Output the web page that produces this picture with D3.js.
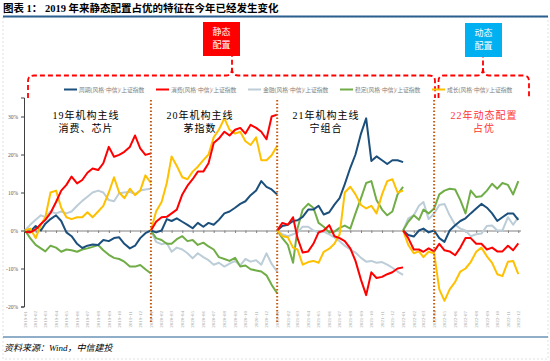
<!DOCTYPE html>
<html>
<head>
<meta charset="utf-8">
<script src="https://cdn.jsdelivr.net/npm/d3@7"></script>
<style>
  body { margin: 0; background: #fff; }
  svg { display: block; }
  text { font-family: "Liberation Serif", "Noto Sans CJK SC", serif; }
</style>
</head>
<body>
<div id="app"></div>
<script>
// 各年度相对上证指数的超额收益(%)，每段年初归零，半月一个点
var years = [2019, 2020, 2021, 2022];
var seriesNames = ['周期(风格·中信)/上证指数', '消费(风格·中信)/上证指数', '金融(风格·中信)/上证指数', '稳定(风格·中信)/上证指数', '成长(风格·中信)/上证指数'];
var seriesColors = ['#1b4f7c', '#ff0000', '#bccdd8', '#70ad47', '#ffc000'];

var zhouqi = [
  [0, -0.3, 1.2, 0, 1.8, 3, 4, 2.5, -0.5, -1.5, -3.5, -4.6, -4, -3.7, -3.8, -2.5, -2.8, -2, -1.8, -3.5, -4.7, -4, -2, -0.7, 0],
  [0, -0.5, 0, 3, 2.5, 3.2, 2.3, 1.5, 0.6, 2, 1, 2, 1.5, 2.8, 4.5, 5, 6, 7, 7.7, 9.3, 10.5, 13, 11.5, 10.8, 9.5],
  [0, 1.2, 1.5, 2.5, 2.7, 3.6, 5.5, 5.5, 6.5, 4.2, 4.8, 6.8, 8.5, 12.2, 16.5, 20, 25.5, 29.5, 18.3, 19.5, 18.5, 17.5, 18.5, 18.5, 18],
  [0, -1.2, -1.6, 0, 0.5, -0.5, 0, -2, -3, 0, 1.4, 2.5, 3.2, 4.5, 5.8, 7, 6, 4.5, 2.5, 3.5, 4.5, 4.5, 2.8]
];
var xiaofei = [
  [-0.3, -0.5, 0.3, 1.7, 2.8, 4.6, 7.5, 10.5, 12, 14.2, 12.4, 13.3, 15.2, 16.3, 15.9, 17.7, 22, 19.4, 19.9, 20.7, 22, 25, 21.6, 19.9, 20.3],
  [0, 2.3, 3.5, 3.6, 4.5, 5.5, 9.5, 11.8, 13.5, 15.5, 15.5, 17.7, 23, 24.2, 26, 25, 26.5, 27, 25.5, 27.8, 27, 26, 24, 30, 30.5],
  [0, 2, 1.5, 3.5, -2, -5.8, -5.5, -3.5, -0.5, 0, 1.4, -1.5, -2, -2.8, -4.7, -8, -13, -17, -11, -12.5, -12.2, -11.5, -11, -10, -9.7],
  [0, -2, -5, -5, -5.6, -4.7, -5.5, -3.5, -5.2, -5.5, -6.5, -4.5, -2, -2, -3.5, -3.5, -5, -4.5, -5.5, -5.5, -4, -5.2, -3.4]
];
var jinrong = [
  [0, 1.5, 2.8, 4, 3.5, 5, 4.5, 5, 4.5, 5, 6.5, 7.8, 8.9, 10, 10.5, 10, 8, 7.7, 9.8, 10, 10.2, 9.6, 10.5, 10.8, 11],
  [0, -3, -3.6, -3.3, -5.6, -4.5, -5, -6, -7.3, -6, -7, -7.8, -9, -8.5, -9.5, -8.7, -8, -9.2, -7.5, -8.2, -7.8, -9, -6, -8.8, -10.8],
  [0, -1, -1.5, -1, -0.5, 1, 1, 0, -0.5, -0.3, -1, -1.8, -2.8, -4, -5, -5.8, -7.2, -8.2, -8, -8.5, -8.3, -9, -9.8, -10.8, -11.7],
  [0, 3.2, 4, 6.5, 7.5, 3, 4.5, 6.7, 7, 4, 1.5, 0.5, 0, -1.5, -1, -0.8, 1.2, 1.3, 0, 0, 3.5, 1.5, 3.5]
];
var wending = [
  [0, -2, -3.8, -4.7, -5.5, -4, -4.5, -5.6, -5, -5.2, -5.6, -5, -4.7, -4.3, -3.8, -5.2, -6.4, -7.2, -7.5, -8.2, -9.5, -9.5, -9.1, -10.2, -11.3],
  [0, -2, -2.5, -3.5, -3.5, -2.3, -1.5, -2.8, -2.5, -3.8, -3.2, -4.2, -5, -7, -7.5, -8, -7.2, -9.5, -9.2, -10.2, -10.5, -10.8, -11.8, -14.3, -16.5],
  [0, -2, -3.8, -8.5, 0.5, 5.5, 7, 6, 2, 1, -0.5, -0.3, 0.7, 1.3, 0.5, 4.5, 8.5, 12.5, 13, 8, 5.5, 4, 5, 9.5, 11.5],
  [0, 2.3, 4, 2.8, 5.5, 4.5, 5.8, 9.5, 10.5, 11, 10.8, 8, 4.5, 10.5, 8.8, 9, 10.5, 12.3, 11, 12.5, 12, 9.5, 13]
];
var chengzhang = [
  [0, 0.5, -2, 1.5, 3.5, 10, 10.5, 6, 3.5, 3, 3.5, 3.5, 4.8, 3.5, 5, 6.5, 10, 14, 10, 8.5, 11, 9.3, 10.5, 14.5, 12.5],
  [0, 5, 7.5, 12.5, 19.5, 17, 14, 13.5, 15.5, 16.8, 18.5, 20, 24.5, 26.5, 29.5, 26.5, 25.5, 26, 23.5, 22.5, 24.5, 18.5, 18.5, 19.8, 22.3],
  [0, -1.5, -1.8, -4.5, -5, -9, -8.3, -8, -8.5, -5.6, -4.8, -3.5, -1, 10, 11.5, 9.5, 6.7, 5.8, 6.5, 4.5, 9.5, 13, 13.5, 10, 10.5],
  [0, -3.8, -6, -5.5, -7, -5.6, -6, -15.5, -18.5, -15.5, -13.5, -10.8, -10, -8.3, -5.6, -4.5, -6.8, -8.5, -11.5, -12, -8.2, -8, -11.5]
];
var allSeries = [zhouqi, xiaofei, jinrong, wending, chengzhang];

var yTicks = [30, 20, 10, 0, -10, -20];
var splitDates = [new Date(2020, 0, 1), new Date(2021, 0, 1), new Date(2022, 3, 1)];
var notes = [
  {x: 86, lines: ['19年机构主线', '消费、芯片'], color: '#000'},
  {x: 200, lines: ['20年机构主线', '茅指数'], color: '#000'},
  {x: 326, lines: ['21年机构主线', '宁组合'], color: '#000'},
  {x: 484, lines: ['22年动态配置', '占优'], color: '#ff3333'}
];

var W = 550, H = 361;
var svg = d3.select('#app').append('svg').attr('width', W).attr('height', H);

var x = d3.scaleTime().domain([new Date(2019, 0, 1), new Date(2023, 0, 1)]).range([25, 529]);
var y = d3.scaleLinear().domain([-20, 35]).range([306.5, 97.5]);

// frame, title
svg.append('rect').attr('x', 3).attr('y', 17).attr('width', 545).attr('height', 342)
   .attr('fill', 'none').attr('stroke', '#d9d9d9').attr('stroke-width', 0.8).attr('stroke-dasharray', '2,2');
svg.append('text').attr('x', 3).attr('y', 11.5).attr('font-size', 10.5).attr('font-weight', 'bold')
   .attr('fill', '#000').text('图表 1：  2019 年来静态配置占优的特征在今年已经发生变化');
svg.append('line').attr('x1', 3).attr('x2', 548).attr('y1', 16.5).attr('y2', 16.5)
   .attr('stroke', '#2a5f8f').attr('stroke-width', 1.8);
svg.append('line').attr('x1', 3).attr('x2', 548).attr('y1', 337).attr('y2', 337)
   .attr('stroke', '#6b93b5').attr('stroke-width', 1.5);
svg.append('text').attr('x', 4).attr('y', 351).attr('font-size', 9).attr('font-style', 'italic')
   .attr('fill', '#000').text('资料来源：Wind，中信建投');

// boxes + braces
var boxes = [
  {x: 203, y: 22, fill: '#ff0000', t: ['静态', '配置']},
  {x: 465, y: 23, fill: '#00b0f0', t: ['动态', '配置']}
];
boxes.forEach(function(b) {
  svg.append('rect').attr('x', b.x).attr('y', b.y).attr('width', 37).attr('height', 34).attr('fill', b.fill);
  b.t.forEach(function(s, i) {
    svg.append('text').attr('x', b.x + 18.5).attr('y', b.y + 13 + i * 13).attr('text-anchor', 'middle')
       .attr('font-size', 9).attr('fill', '#fff').text(s);
  });
});
var braces = [
  'M28,98 L28,81 Q28,75.5 34,75.5 L226,75.5 Q232,75.5 232,68 L232,56 M232,68 Q232,75.5 238,75.5 L429,75.5 Q435,75.5 435,81 L435,98',
  'M438.5,98 L438.5,81 Q438.5,75.5 444,75.5 L477,75.5 Q483,75.5 483,68 L483,57 M483,68 Q483,75.5 489,75.5 L523,75.5 Q529,75.5 529,81 L529,98'
];
braces.forEach(function(p) {
  svg.append('path').attr('d', p).attr('fill', 'none').attr('stroke', '#ff0000')
     .attr('stroke-width', 1.8).attr('stroke-dasharray', '5,3');
});

// legend
var legX = [64, 156, 248, 340, 432];
seriesNames.forEach(function(n, i) {
  svg.append('line').attr('x1', legX[i]).attr('x2', legX[i] + 13).attr('y1', 89.5).attr('y2', 89.5)
     .attr('stroke', seriesColors[i]).attr('stroke-width', 2);
  svg.append('text').attr('x', legX[i] + 15).attr('y', 91.5).attr('font-size', 5.8)
     .attr('fill', '#808080').text(n);
});

// y axis
var yAxis = svg.append('g').attr('transform', 'translate(24,0)')
  .call(d3.axisLeft(y).tickValues(yTicks).tickSize(3).tickFormat(function(d) { return d + '%'; }));
yAxis.select('.domain').attr('stroke', '#404040');
yAxis.selectAll('line').attr('stroke', '#404040');
yAxis.selectAll('text').attr('font-size', 5.5).attr('fill', '#595959');

// zero axis with monthly ticks
var months = d3.timeMonth.range(new Date(2019, 0, 1), new Date(2023, 0, 1));
var zeroAxis = svg.append('g').attr('transform', 'translate(0,' + y(0) + ')')
  .call(d3.axisBottom(x).tickValues(months).tickSize(2.5).tickSizeOuter(0).tickFormat(''));
zeroAxis.select('.domain').attr('stroke', '#808080').attr('d', 'M24,0.5H521');
zeroAxis.selectAll('line').attr('stroke', '#808080');

// month labels
svg.append('g').selectAll('text').data(months).join('text')
  .attr('transform', function(d) { return 'translate(' + (x(d) + 1.8) + ',311) rotate(-90)'; })
  .attr('text-anchor', 'end').attr('font-size', 5).attr('fill', '#a6a6a6')
  .text(d3.timeFormat('%Y-%m'));

// series
function pointDate(year, k) {
  return new Date(year, Math.floor(k / 2), k % 2 ? 16 : 1);
}
var line = d3.line().x(function(d) { return x(d.date); }).y(function(d) { return y(d.v); });
var drawOrder = [2, 3, 0, 4, 1];
years.forEach(function(yr, s) {
  drawOrder.forEach(function(i) {
    var pts = allSeries[i][s].map(function(v, k) { return {date: pointDate(yr, k), v: v}; });
    svg.append('path').datum(pts).attr('d', line).attr('fill', 'none')
       .attr('stroke', seriesColors[i]).attr('stroke-width', 2).attr('stroke-linejoin', 'round');
  });
});

// split lines
splitDates.forEach(function(d) {
  svg.append('line').attr('x1', x(d)).attr('x2', x(d)).attr('y1', 100).attr('y2', 322)
     .attr('stroke', '#c55a11').attr('stroke-width', 2).attr('stroke-dasharray', '1.5,2');
});

// notes
notes.forEach(function(n) {
  n.lines.forEach(function(s, i) {
    svg.append('text').attr('x', n.x).attr('y', 118.5 + i * 13.5).attr('text-anchor', 'middle')
       .attr('font-size', 10).attr('letter-spacing', 1).attr('fill', n.color).text(s);
  });
});
</script>
</body>
</html>
